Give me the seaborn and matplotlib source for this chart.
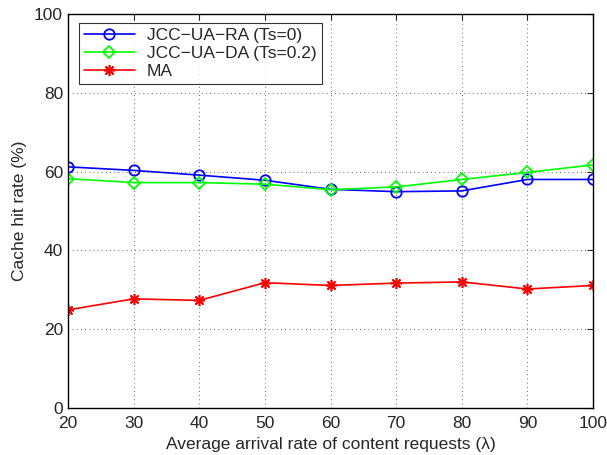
import matplotlib
matplotlib.use("Agg")
import matplotlib.pyplot as plt
import seaborn as sns
import pandas as pd

# Average arrival rate of content requests
arrival_rate = [20, 30, 40, 50, 60, 70, 80, 90, 100]

# Cache hit rate (%) per scheme
hit_ra = [61.2, 60.3, 59.1, 57.8, 55.5, 54.9, 55.1, 58.0, 58.0]
hit_da = [58.2, 57.2, 57.2, 56.8, 55.4, 56.1, 58.0, 59.8, 61.7]
hit_ma = [24.9, 27.7, 27.3, 31.8, 31.1, 31.7, 32.0, 30.2, 31.1]

series_names = ["JCC\u2212UA\u2212RA (Ts=0)", "JCC\u2212UA\u2212DA (Ts=0.2)", "MA"]
x_ticks = [20, 30, 40, 50, 60, 70, 80, 90, 100]
y_ticks = [0, 20, 40, 60, 80, 100]

sns.set_style("white")
plt.rcParams["font.family"] = ["Liberation Sans", "DejaVu Sans"]
plt.rcParams["font.size"] = 12.5

fig = plt.figure(figsize=(6.07, 4.55), dpi=100)
ax = fig.add_axes([0.112, 0.1033, 0.865, 0.866])

# 8-armed asterisk for the MA series
asterisk = (8, 2, 0)
styles = [
    (hit_ra, "#0000ff", "o", 7.5, 1.3),
    (hit_da, "#00ff00", "D", 6.0, 1.3),
    (hit_ma, "#ff0000", asterisk, 8.0, 1.2),
]
for name, (vals, color, marker, ms, mew) in zip(series_names, styles):
    df = pd.DataFrame({"x": arrival_rate, "y": vals})
    sns.lineplot(data=df, x="x", y="y", ax=ax, color=color, marker=marker,
                 markersize=ms, markerfacecolor="none", markeredgecolor=color,
                 markeredgewidth=mew, linewidth=1.2, label=name)

ax.set_xlim(20, 100)
ax.set_ylim(0, 100)
ax.set_xticks(x_ticks)
ax.set_yticks(y_ticks)
ax.set_xlabel("Average arrival rate of content requests (\u03bb)", fontsize=12.5, labelpad=4)
ax.set_ylabel("Cache hit rate (%)", fontsize=12.5, labelpad=5)
ax.grid(True, color="black", linestyle=(0, (1, 4)), linewidth=0.6, alpha=0.8)
ax.tick_params(direction="in", top=True, right=True, length=4, width=0.8,
               labelsize=12.5)
ax.tick_params(axis="x", pad=6)
ax.tick_params(axis="y", pad=3.5)
for sp in ax.spines.values():
    sp.set_color("black")
    sp.set_linewidth(1.0)

leg = ax.legend(loc="upper left", bbox_to_anchor=(0.021, 0.977), fontsize=12.5,
                frameon=True, fancybox=False, edgecolor="black", borderaxespad=0,
                handlelength=2.9, handletextpad=0.7, labelspacing=0.15,
                borderpad=0.3)
leg.get_frame().set_linewidth(0.8)

fig.savefig("out.png", dpi=100, facecolor="white")
